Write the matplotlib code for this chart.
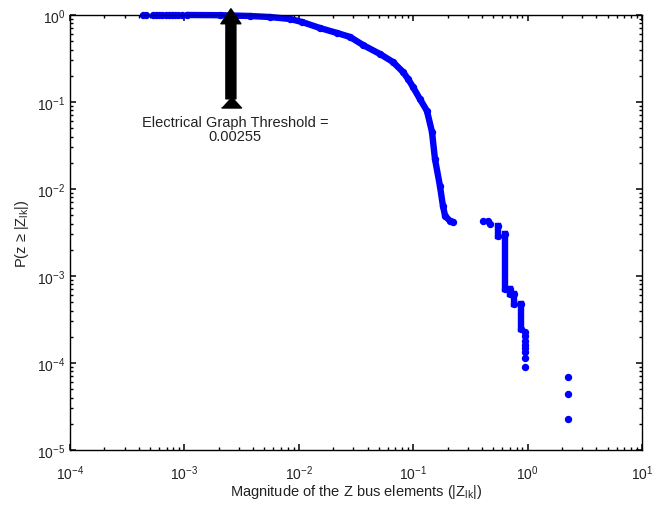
import matplotlib
matplotlib.use("Agg")
import matplotlib.pyplot as plt
from matplotlib.patches import FancyArrowPatch
from matplotlib.ticker import LogLocator, NullFormatter

plt.rcParams["font.family"] = ["Liberation Sans", "DejaVu Sans"]
plt.rcParams["mathtext.fontset"] = "custom"
plt.rcParams["mathtext.rm"] = "Liberation Sans"
plt.rcParams["mathtext.it"] = "Liberation Sans:italic"
plt.rcParams["xtick.direction"] = "in"
plt.rcParams["ytick.direction"] = "in"
plt.rcParams["xtick.top"] = True
plt.rcParams["ytick.right"] = True

# sparse dots along the top (P = 1)
top_x = [4.35e-4, 4.61e-4, 5.31e-4, 5.65e-4, 6.0e-4, 6.37e-4, 6.9e-4, 7.33e-4,
         7.79e-4, 8.28e-4, 8.79e-4, 9.53e-4]
top_y = [1.0] * len(top_x)

# dense main part of the distribution
main_x = [1.054e-3, 2.05e-3, 3.74e-3, 5.6e-3, 8.37e-3, 0.01067, 0.0153, 0.0216,
          0.0281, 0.0364, 0.0513, 0.0666, 0.0815, 0.0902, 0.0995, 0.1146, 0.132,
          0.146, 0.155, 0.1714, 0.182, 0.190, 0.210, 0.223]
main_y = [1.0, 0.995, 0.974, 0.948, 0.90, 0.831, 0.709, 0.621, 0.559, 0.452,
          0.356, 0.288, 0.221, 0.184, 0.149, 0.108, 0.0788, 0.0452, 0.0221,
          0.0108, 0.00638, 0.0049, 0.00429, 0.00418]

# isolated dots after the gap
gap_x = [0.407, 0.451, 0.469]
gap_y = [0.00429, 0.00429, 0.00396]

# stacked runs (many elements with nearly the same |Z|)
run_x = [0.551, 0.634, 0.701, 0.760, 0.875]
run_top = [0.00376, 0.00303, 7.1e-4, 6.2e-4, 4.77e-4]
run_bot = [0.00288, 7.1e-4, 6.2e-4, 4.77e-4, 2.46e-4]

# last few elements
end1_x = 0.949
end1_y = [2.27e-4, 2.04e-4, 1.79e-4, 1.61e-4, 1.49e-4, 1.34e-4, 1.14e-4, 9.0e-5]
end2_x = 2.25
end2_y = [6.9e-5, 4.4e-5, 2.3e-5]

threshold = 0.00255

BLUE = "#0000ff"
MS = 4.3
LW = 4.6

fig = plt.figure(figsize=(6.54, 5.06), dpi=100)
ax = fig.add_axes([70 / 654, 55 / 506, 572 / 654, 435 / 506])
ax.set_xscale("log"); ax.set_yscale("log")

kw = dict(color=BLUE, ms=MS, mec=BLUE, clip_on=False)
ax.plot(top_x, top_y, "o", **kw)
ax.plot(main_x, main_y, "-o", lw=LW, solid_capstyle="round", solid_joinstyle="round", **kw)
ax.plot(gap_x, gap_y, "o", **kw)
for x, y0, y1 in zip(run_x, run_top, run_bot):
    ax.plot([x, x], [y0, y1], "-o", lw=LW, **kw)
ax.plot([end1_x] * len(end1_y), end1_y, "o", **kw)
ax.plot([end2_x] * len(end2_y), end2_y, "o", **kw)

ax.set_xlim(1e-4, 1e1)
ax.set_ylim(1e-5, 1e0)
for axis in (ax.xaxis, ax.yaxis):
    axis.set_major_locator(LogLocator(base=10, numticks=20))
    axis.set_minor_locator(LogLocator(base=10, subs=[2, 3, 4, 5, 6, 7, 8, 9], numticks=20))
    axis.set_minor_formatter(NullFormatter())

# threshold arrow
arr = FancyArrowPatch((threshold, 0.101), (threshold, 1.27), transform=ax.transData,
                      arrowstyle="simple,head_length=1.5,head_width=2,tail_width=1",
                      mutation_scale=7.2, color="black", clip_on=False, zorder=5)
ax.add_patch(arr)
ax.plot([threshold], [0.101], marker=[(-1, -0.55), (1, -0.55), (0, 0.55)],
        ms=14.4, color="black", mec="black", zorder=5, clip_on=False)
ax.text(2.77e-3, 0.0707, "Electrical Graph Threshold =\n0.00255", ha="center", va="top",
        fontsize=10.5, linespacing=0.95, color="#222222")

ax.tick_params(which="major", length=4.5, width=1.1, color="black")
ax.tick_params(which="minor", length=2.5, width=1.0, color="black")
ax.tick_params(labelsize=10, labelcolor="#222222")
ax.tick_params(axis="x", which="both", pad=10)
for s in ax.spines.values():
    s.set_linewidth(1.0)

ax.set_xlabel("Magnitude of the Z bus elements (|Z$_{\\rm lk}$|)", fontsize=10.5,
              color="#222222", labelpad=0)
ax.set_ylabel("P(z \u2265 |Z$_{\\rm lk}$|)", fontsize=10.5, color="#222222", labelpad=4)

fig.savefig("out.png", dpi=100)
